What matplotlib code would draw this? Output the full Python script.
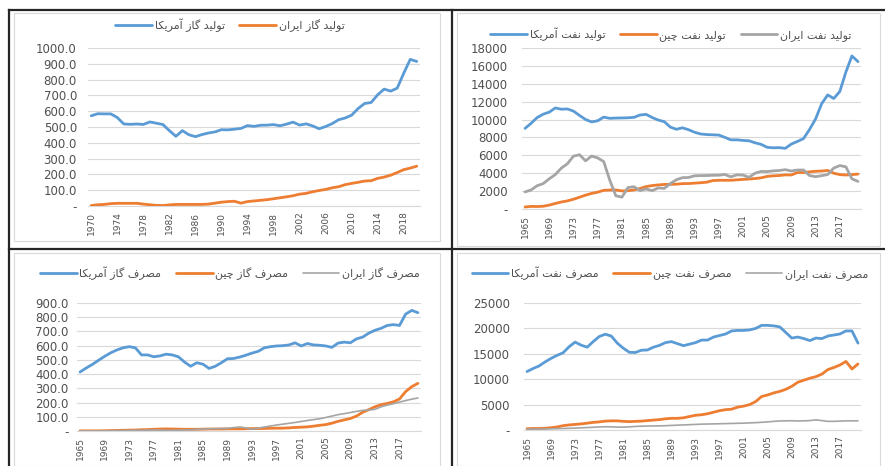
import matplotlib
matplotlib.use("Agg")
import matplotlib.pyplot as plt
import numpy as np
from matplotlib.lines import Line2D
from matplotlib.patches import Rectangle

plt.rcParams['font.family'] = ['DejaVu Sans']

# ---- data ----
years_70 = np.arange(1970, 2021)
years_65 = np.arange(1965, 2021)

us_gas_prod = [571, 584, 583, 583, 560, 519, 517, 519, 516, 532,
               524, 516, 477, 441, 477, 451, 439, 452, 462, 469,
               483, 482, 486, 491, 509, 504, 511, 512, 515, 508,
               518, 531, 512, 520, 507, 489, 503, 521, 546, 557,
               575, 617, 649, 655, 704, 740, 727, 746, 840, 928, 915]
iran_gas_prod = [3, 8, 10, 15, 17, 17, 17, 17, 12, 8,
                 4, 3, 7, 10, 10, 10, 10, 10, 12, 18,
                 24, 28, 30, 18, 28, 32, 36, 40, 46, 52,
                 58, 65, 75, 80, 90, 98, 105, 115, 122, 135,
                 143, 150, 158, 160, 175, 183, 195, 212, 230, 240, 252]

us_oil_prod = [9014, 9579, 10219, 10600, 10828, 11297, 11156, 11185, 10946, 10461,
               10008, 9736, 9863, 10274, 10136, 10170, 10180, 10199, 10247, 10509,
               10580, 10231, 9944, 9765, 9159, 8914, 9076, 8868, 8583, 8389,
               8322, 8295, 8269, 8011, 7731, 7733, 7669, 7626, 7400, 7228,
               6895, 6841, 6860, 6783, 7263, 7552, 7870, 8892, 10071, 11768,
               12757, 12354, 13141, 15310, 17114, 16476]
china_oil_prod = [227, 291, 280, 306, 437, 616, 784, 908, 1090, 1315,
                  1547, 1744, 1883, 2089, 2122, 2124, 2024, 2045, 2128, 2296,
                  2505, 2620, 2690, 2748, 2757, 2774, 2835, 2845, 2890, 2939,
                  2993, 3175, 3211, 3212, 3213, 3257, 3310, 3351, 3406, 3486,
                  3642, 3711, 3742, 3814, 3805, 4077, 4074, 4155, 4216, 4246,
                  4309, 3999, 3846, 3802, 3848, 3901]
iran_oil_prod = [1908, 2132, 2603, 2840, 3376, 3848, 4572, 5059, 5908, 6067,
                 5387, 5921, 5712, 5302, 3218, 1479, 1321, 2397, 2492, 2056,
                 2239, 2057, 2355, 2301, 2840, 3270, 3500, 3523, 3712, 3730,
                 3744, 3766, 3776, 3855, 3603, 3818, 3794, 3543, 4002, 4201,
                 4184, 4260, 4303, 4396, 4249, 4356, 4358, 3740, 3610, 3725,
                 3853, 4578, 4855, 4715, 3376, 3084]

us_gas_cons = [415, 443, 468, 497, 525, 550, 570, 585, 593, 585,
               535, 535, 522, 528, 540, 535, 522, 485, 455, 480,
               470, 440, 455, 480, 508, 510, 520, 533, 548, 560,
               585, 593, 598, 600, 605, 620, 598, 615, 605, 603,
               598, 588, 618, 625, 620, 648, 660, 688, 708, 722,
               742, 748, 742, 822, 848, 832]
china_gas_cons = [1, 1, 1, 1, 2, 3, 4, 5, 6, 7,
                  9, 10, 12, 14, 15, 14, 13, 12, 12, 12,
                  13, 14, 14, 14, 15, 15, 15, 16, 17, 17,
                  18, 19, 20, 20, 22, 25, 27, 29, 34, 40,
                  45, 55, 68, 78, 88, 105, 132, 150, 170, 185,
                  194, 205, 225, 277, 312, 335]
iran_gas_cons = [0, 0, 0, 0, 1, 2, 3, 3, 4, 5,
                 5, 6, 7, 6, 5, 5, 6, 7, 8, 11,
                 13, 15, 16, 18, 18, 24, 28, 22, 12, 20,
                 28, 35, 42, 48, 54, 60, 67, 74, 80, 86,
                 95, 105, 115, 122, 130, 138, 145, 148, 152, 170,
                 182, 192, 203, 214, 224, 232]

us_oil_cons = [11500, 12100, 12600, 13400, 14100, 14700, 15200, 16400, 17300, 16700,
               16300, 17400, 18400, 18850, 18500, 17100, 16100, 15300, 15250, 15700,
               15750, 16300, 16650, 17200, 17400, 17000, 16600, 16900, 17200, 17700,
               17700, 18300, 18600, 18900, 19500, 19600, 19600, 19700, 20000, 20600,
               20600, 20500, 20300, 19200, 18100, 18300, 18000, 17600, 18100, 18000,
               18500, 18700, 18900, 19500, 19500, 17100]
china_oil_cons = [250, 300, 300, 350, 450, 600, 850, 1000, 1100, 1200,
                  1350, 1500, 1600, 1750, 1800, 1800, 1700, 1650, 1700, 1750,
                  1850, 1950, 2050, 2200, 2300, 2300, 2400, 2650, 2900, 3000,
                  3200, 3500, 3800, 4000, 4100, 4500, 4700, 5000, 5600, 6600,
                  6900, 7300, 7600, 8000, 8600, 9400, 9800, 10200, 10500, 11000,
                  11900, 12300, 12800, 13500, 12000, 13000]
iran_oil_cons = [150, 170, 190, 210, 240, 270, 300, 330, 380, 430,
                 480, 540, 600, 640, 620, 570, 560, 620, 700, 750,
                 780, 800, 820, 850, 900, 950, 1000, 1050, 1100, 1150,
                 1180, 1200, 1230, 1260, 1290, 1320, 1350, 1400, 1450, 1520,
                 1600, 1700, 1780, 1800, 1820, 1780, 1800, 1850, 2000, 1850,
                 1700, 1700, 1750, 1800, 1800, 1800]

lbl_gas_prod = ["تولید گاز آمریکا", "تولید گاز ایران"]
lbl_oil_prod = ["تولید نفت آمریکا", "تولید نفت چین", "تولید نفت ایران"]
lbl_gas_cons = ["مصرف گاز آمریکا", "مصرف گاز چین", "مصرف گاز ایران"]
lbl_oil_cons = ["مصرف نفت آمریکا", "مصرف نفت چین", "مصرف نفت ایران"]

BLUE = "#5B9BD5"
ORANGE = "#ED7D31"
GRAY = "#A5A5A5"
TXT = "#505050"
GRID = "#D9D9D9"

# persian shaping (presentation forms), matplotlib has no shaping in 3.10
FORMS = {
    'ا': ('\uFE8D', '\uFE8E', None, None),
    'آ': ('\uFE81', '\uFE82', None, None),
    'ت': ('\uFE95', '\uFE96', '\uFE97', '\uFE98'),
    'د': ('\uFEA9', '\uFEAA', None, None),
    'ر': ('\uFEAD', '\uFEAE', None, None),
    'ز': ('\uFEAF', '\uFEB0', None, None),
    'ص': ('\uFEB9', '\uFEBA', '\uFEBB', '\uFEBC'),
    'ف': ('\uFED1', '\uFED2', '\uFED3', '\uFED4'),
    'ل': ('\uFEDD', '\uFEDE', '\uFEDF', '\uFEE0'),
    'م': ('\uFEE1', '\uFEE2', '\uFEE3', '\uFEE4'),
    'ن': ('\uFEE5', '\uFEE6', '\uFEE7', '\uFEE8'),
    'و': ('\uFEED', '\uFEEE', None, None),
    'ی': ('\uFBFC', '\uFBFD', '\uFBFE', '\uFBFF'),
    'ک': ('\uFB8E', '\uFB8F', '\uFB90', '\uFB91'),
    'گ': ('\uFB92', '\uFB93', '\uFB94', '\uFB95'),
    'چ': ('\uFB7A', '\uFB7B', '\uFB7C', '\uFB7D'),
}


def fa(s):
    out = []
    for i, c in enumerate(s):
        if c not in FORMS:
            out.append(c)
            continue
        prev = s[i - 1] if i > 0 else ''
        nxt = s[i + 1] if i + 1 < len(s) else ''
        jp = prev in FORMS and FORMS[prev][2] is not None
        jn = nxt in FORMS and FORMS[c][2] is not None
        iso, fin, ini, med = FORMS[c]
        if jp and jn:
            out.append(med)
        elif jp:
            out.append(fin)
        elif jn:
            out.append(ini)
        else:
            out.append(iso)
    return ''.join(out)[::-1]


def panel(fig, rect, years, series, colors, widths, labels, ymax, ystep, fmt, leg_xy, ypad):
    ax = fig.add_axes(rect)
    x = np.arange(len(years))
    handles = []
    for s, c, w in zip(series, colors, widths):
        h, = ax.plot(x, s, color=c, lw=w, solid_capstyle='round', zorder=3)
        handles.append(h)
    ax.set_xlim(-0.5, len(years) - 0.5)
    ax.set_ylim(0, ymax)
    yt = np.arange(0, ymax + 1, ystep)
    ax.set_yticks(yt)
    ax.set_yticklabels(['-' if v == 0 else fmt(v) for v in yt], fontsize=8.5, color=TXT)
    ax.set_xticks(x[::4])
    ax.set_xticklabels([str(y) for y in years[::4]], rotation=90, fontsize=6.5, color=TXT)
    ax.tick_params(axis='y', length=0, pad=ypad)
    ax.tick_params(axis='x', length=0, pad=4)
    ax.yaxis.grid(True, color=GRID, lw=0.8)
    ax.set_axisbelow(True)
    for sp in ['top', 'right', 'left']:
        ax.spines[sp].set_visible(False)
    ax.spines['bottom'].set_color(GRID)
    ax.spines['bottom'].set_linewidth(0.8)
    fig.legend(handles, [fa(l) for l in labels], loc='center', bbox_to_anchor=leg_xy,
               ncol=len(labels), frameon=False, fontsize=8, handlelength=3.3,
               handletextpad=0.25, columnspacing=1.3, labelcolor=TXT)
    return ax


W, H = 885, 466
fig = plt.figure(figsize=(W / 100, H / 100), dpi=100)
fig.patch.set_facecolor('white')


def fx(px):
    return px / W


def fy(py):
    return 1 - py / H


# chart area frames (light gray)
for x0, y0, x1, y1 in [(14, 13, 440, 241), (457, 13, 880, 246), (14, 253, 440, 466), (457, 253, 880, 466)]:
    fig.add_artist(Rectangle((fx(x0), fy(y1)), fx(x1 - x0), (y1 - y0) / H,
                             fill=False, ec=GRID, lw=0.8, transform=fig.transFigure))

gas_fmt = lambda v: f'{v:.1f}'
oil_fmt = lambda v: f'{int(v)}'

panel(fig, [fx(88), fy(206), fx(332), 158 / H], years_70,
      [us_gas_prod, iran_gas_prod], [BLUE, ORANGE], [2.0, 2.0],
      lbl_gas_prod, 1000, 100, gas_fmt, (fx(230), fy(25)), 8)

panel(fig, [fx(522), fy(209), fx(339), 161 / H], years_65,
      [us_oil_prod, china_oil_prod, iran_oil_prod], [BLUE, ORANGE, GRAY], [2.0, 2.0, 2.0],
      lbl_oil_prod, 18000, 2000, oil_fmt, (fx(671), fy(34)), 10)

panel(fig, [fx(77), fy(431), fx(344), 128 / H], years_65,
      [us_gas_cons, china_gas_cons, iran_gas_cons], [BLUE, ORANGE, GRAY], [2.0, 2.0, 1.2],
      lbl_gas_cons, 900, 100, gas_fmt, (fx(230), fy(273)), 6)

panel(fig, [fx(524), fy(430), fx(337), 127 / H], years_65,
      [us_oil_cons, china_oil_cons, iran_oil_cons], [BLUE, ORANGE, GRAY], [2.0, 2.0, 1.2],
      lbl_oil_cons, 25000, 5000, oil_fmt, (fx(670), fy(273)), 10)

# table borders
tbl = dict(color='#262626', lw=1.6, transform=fig.transFigure)
fig.add_artist(Line2D([fx(9), 1], [fy(10), fy(10)], **tbl))
fig.add_artist(Line2D([fx(9), 1], [fy(249), fy(249)], **tbl))
fig.add_artist(Line2D([fx(9), fx(9)], [0, fy(10)], **tbl))
fig.add_artist(Line2D([fx(452), fx(452)], [0, fy(10)], **tbl))

fig.savefig('out.png', dpi=100)
